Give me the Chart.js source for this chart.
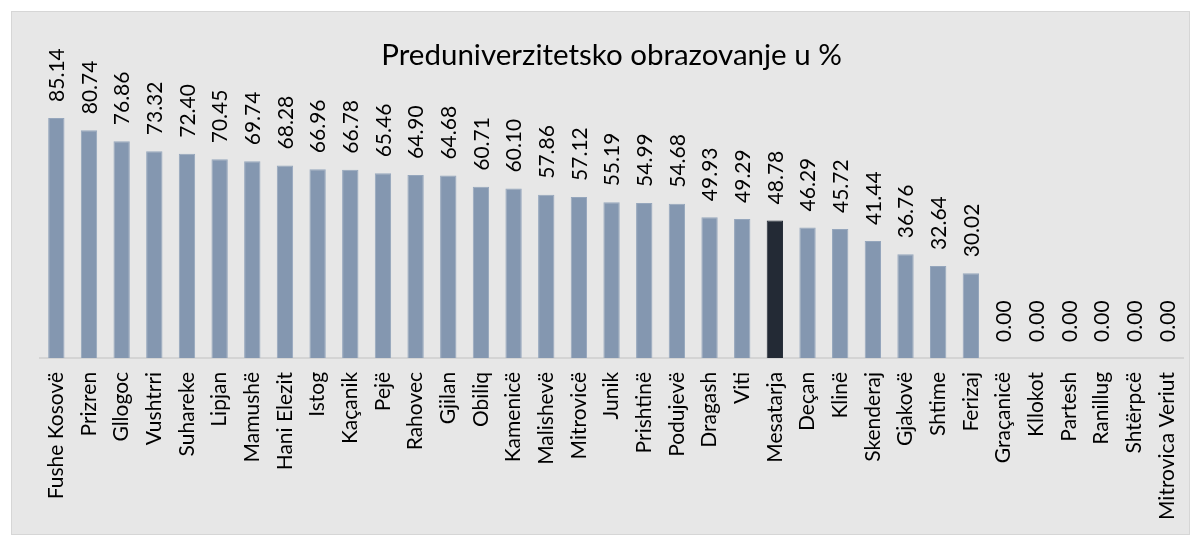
<!DOCTYPE html>
<html>
<head>
<meta charset="utf-8">
<script src="https://cdn.jsdelivr.net/npm/chart.js@4.4.1/dist/chart.umd.min.js"></script>
<style>
  html, body { margin: 0; padding: 0; background: #ffffff; }
  #box {
    position: absolute; left: 11px; top: 11px;
    width: 1179px; height: 524px;
    background: #e7e7e7; border: 1px solid #d6d6d6;
    box-sizing: border-box; overflow: hidden;
  }
  #myChart { display: block; }
</style>
</head>
<body>
<div id="box"><canvas id="myChart" width="1194" height="522"></canvas></div>
<script>
const chartTitle = 'Preduniverzitetsko obrazovanje u %';
const labels = [
    'Fushe Kosovë', 'Prizren', 'Gllogoc', 'Vushtrri', 'Suhareke', 'Lipjan', 'Mamushë',
    'Hani Elezit', 'Istog', 'Kaçanik', 'Pejë', 'Rahovec', 'Gjilan', 'Obiliq', 'Kamenicë',
    'Malishevë', 'Mitrovicë', 'Junik', 'Prishtinë', 'Podujevë', 'Dragash', 'Viti', 'Mesatarja',
    'Deçan', 'Klinë', 'Skenderaj', 'Gjakovë', 'Shtime', 'Ferizaj', 'Graçanicë', 'Kllokot',
    'Partesh', 'Ranillug', 'Shtërpcë', 'Mitrovica Veriut'
];
const values = [
    85.14, 80.74, 76.86, 73.32, 72.40, 70.45, 69.74, 68.28, 66.96, 66.78, 65.46, 64.90,
    64.68, 60.71, 60.10, 57.86, 57.12, 55.19, 54.99, 54.68, 49.93, 49.29, 48.78, 46.29,
    45.72, 41.44, 36.76, 32.64, 30.02, 0, 0, 0, 0, 0, 0
];
const averageLabel = 'Mesatarja';

const barColor = '#8497b0';
const avgColor = '#232a35';
const font = "Lato, 'Open Sans', sans-serif";

// value labels written upward above each bar, plus the title centred on the plot
const barLabels = {
    id: 'barLabels',
    afterDatasetsDraw(chart) {
        const ctx = chart.ctx;
        const meta = chart.getDatasetMeta(0);
        ctx.save();
        ctx.fillStyle = '#000000';
        ctx.font = '21px ' + font;
        ctx.textAlign = 'left';
        ctx.textBaseline = 'middle';
        meta.data.forEach((bar, i) => {
            ctx.save();
            ctx.translate(bar.x + 1, bar.y - 16);
            ctx.rotate(-Math.PI / 2);
            ctx.fillText(values[i].toFixed(2), 0, 0);
            ctx.restore();
        });
        ctx.font = '29.5px ' + font;
        ctx.textAlign = 'center';
        ctx.textBaseline = 'middle';
        const area = chart.chartArea;
        ctx.fillText(chartTitle, (area.left + area.right) / 2, 43);
        ctx.restore();
    }
};

const data = {
    labels: labels,
    datasets: [{
        data: values,
        backgroundColor: labels.map(l => l === averageLabel ? avgColor : barColor),
        borderColor: labels.map(l => l === averageLabel ? avgColor : '#95a6bc'),
        borderWidth: 1,
        barPercentage: 0.5,
        categoryPercentage: 1.0,
    }]
};

const config = {
    type: 'bar',
    data: data,
    plugins: [barLabels],
    options: {
        responsive: false,
        animation: false,
        layout: {
            padding: { top: 64, left: 28, right: 0, bottom: 0 }
        },
        plugins: {
            legend: { display: false },
            tooltip: { enabled: false },
        },
        scales: {
            x: {
                grid: { display: false, drawTicks: false },
                border: { display: true, color: '#d4d4d4', width: 2 },
                ticks: {
                    color: '#000000',
                    font: { family: font, size: 21 },
                    minRotation: 90,
                    maxRotation: 90,
                    autoSkip: false,
                    padding: 14,
                }
            },
            y: {
                display: false,
                min: 0,
                max: 100,
            }
        }
    },
};

var myChart = new Chart(
    document.getElementById('myChart'),
    config
);
</script>
</body>
</html>
